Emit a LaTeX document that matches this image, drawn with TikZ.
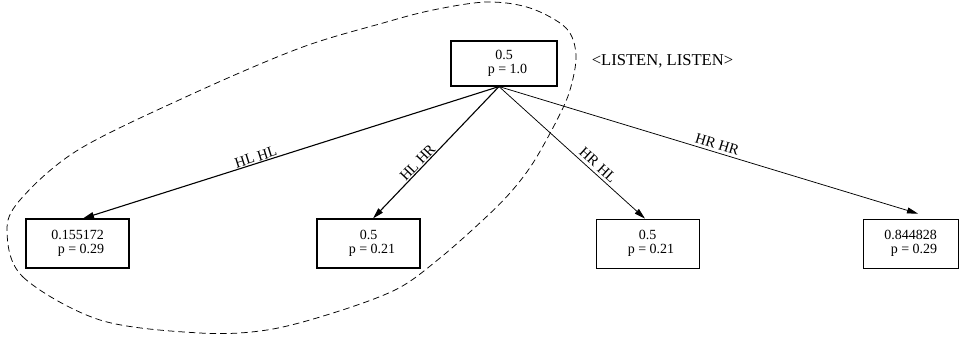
\documentclass[tikz,border=0pt]{standalone}
\usepackage{fontspec}
\setmainfont{Liberation Serif}
\usetikzlibrary{arrows.meta,calc}
\tikzset{
  box/.style={draw, rectangle, inner sep=0pt, align=center, font=\fontsize{14}{14}\selectfont},
  thickbox/.style={box, line width=1.1pt},
  thinbox/.style={box, line width=0.75pt},
  edge/.style={-{Triangle[length=11pt,width=6pt]}},
  thickedge/.style={edge, line width=1.1pt},
  thinedge/.style={edge, line width=0.75pt},
  lbl/.style={sloped, above, inner sep=1pt, font=\fontsize{14.8}{15}\selectfont},
  region/.style={dash pattern=on 6.5pt off 4pt, line width=0.75pt},
}
\begin{document}
\begin{tikzpicture}[x=1pt,y=-1pt]
\useasboundingbox (0,0) rectangle (960,341);
% region
\draw[region] plot[smooth cycle, tension=0.55] coordinates {
 (7,232) (23,277) (100,320) (200,333) (267,330) (333,313) (397,289) (440,258)
 (483,220) (510,193) (533,163) (557,120) (570,90) (576,55) (566,28) (530,8)
 (487,2) (433,10) (383,23) (300,48) (190,95) (78,150) (20,200)};
% nodes
\node[thickbox, minimum width=106pt, minimum height=45pt] (root) at (504,63.5) {0.5\\\hspace*{7pt}p = 1.0};
\node[thickbox, minimum width=103pt, minimum height=49pt] (leaf1) at (77.5,243.5) {0.155172\\\hspace*{7pt}p = 0.29};
\node[thickbox, minimum width=103pt, minimum height=49pt] (leaf2) at (368.5,243.5) {0.5\\\hspace*{7pt}p = 0.21};
\node[thinbox, minimum width=103pt, minimum height=49pt] (leaf3) at (647.5,243.5) {0.5\\\hspace*{7pt}p = 0.21};
\node[thinbox, minimum width=95pt, minimum height=49pt] (leaf4) at (910.5,243.5) {0.844828\\\hspace*{7pt}p = 0.29};
\node[font=\fontsize{16.6}{17}\selectfont, inner sep=0pt] (act) at (662.5,61) {<LISTEN, LISTEN>};
% connection points
\coordinate (src) at ($(root.south)+(-5,0)$);
\coordinate (t1) at ($(leaf1.north)+(5.5,0)$);
\coordinate (t2) at ($(leaf2.north)+(4.5,0)$);
\coordinate (t3) at ($(leaf3.north)+(-2.5,0)$);
\coordinate (t4) at ($(leaf4.north)+(7.5,-5)$);
% edges
\draw[thickedge] (src) -- node[lbl, pos=0.58] {HL HL} (t1);
\draw[thickedge] (src) -- node[lbl, pos=0.61] {HL HR} (t2);
\draw[thinedge] (src) -- node[lbl, pos=0.64, inner sep=3pt] {HR HL} (t3);
\draw[thinedge] (src) -- node[lbl, pos=0.515, inner sep=3pt] {HR HR} (t4);
\end{tikzpicture}
\end{document}
